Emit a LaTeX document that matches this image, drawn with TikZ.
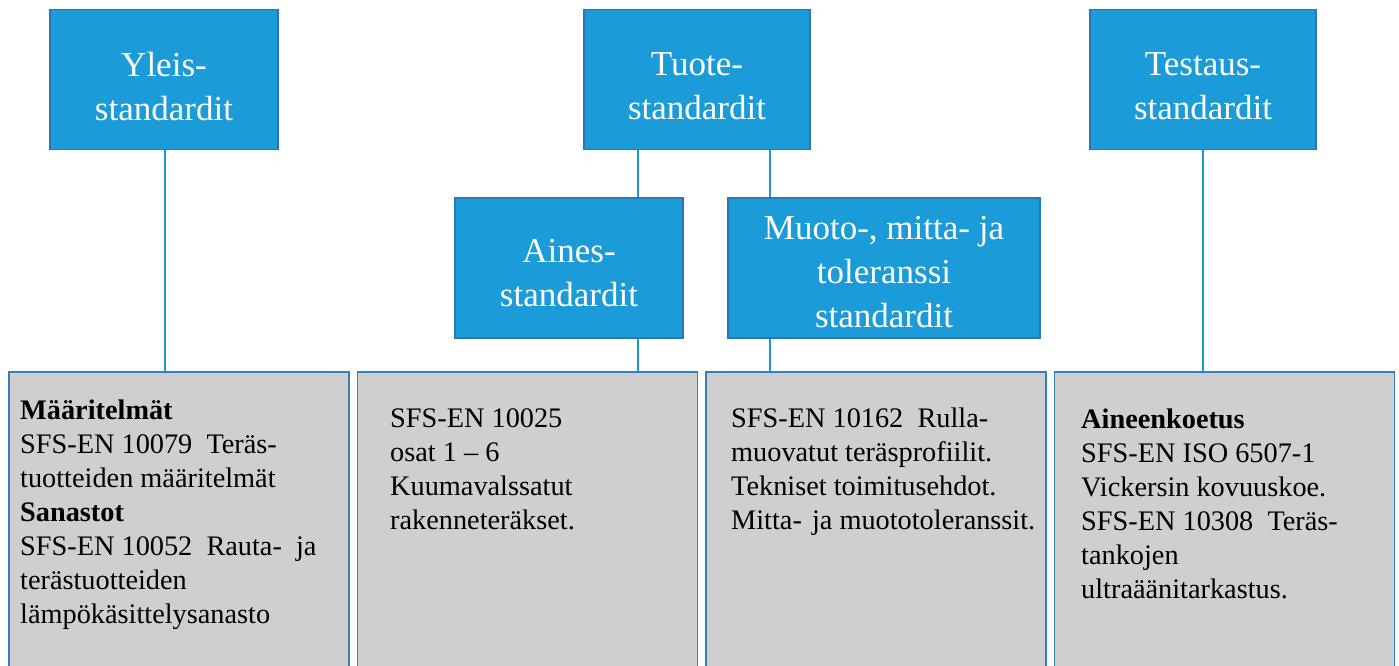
\documentclass[tikz,border=0pt]{standalone}
\usepackage{fontspec}
\setmainfont{Liberation Serif}
\definecolor{bfill}{RGB}{27,155,215}
\definecolor{bedge}{RGB}{46,117,182}
\definecolor{gfill}{RGB}{208,206,206}
\definecolor{gedge}{RGB}{50,128,190}
\definecolor{lcol}{RGB}{27,150,215}
\begin{document}
\begin{tikzpicture}[x=1pt,y=-1pt,
  bluebox/.style={draw=bedge,line width=1.5pt,fill=bfill,
    inner sep=0pt,minimum height=140pt},
  bluetxt/.style={text=white,align=center,inner sep=0pt,
    font=\fontsize{35}{44}\selectfont},
  graybox/.style={draw=gedge,line width=1.5pt,fill=gfill,inner sep=0pt,
    minimum width=340pt,minimum height=310pt,anchor=north west},
  boxtext/.style={anchor=north west,align=left,inner sep=0pt,
    font=\fontsize{28.3}{34}\selectfont},
  conn/.style={draw=lcol,line width=2.5pt}]
\useasboundingbox (0,0) rectangle (1399,666);
% gray boxes
\node[graybox] (g1) at (8,371) {};
\node[graybox] (g2) at (356.5,371) {};
\node[graybox] (g3) at (705,371) {};
\node[graybox] (g4) at (1053.5,371) {};
% blue boxes
\node[bluebox,minimum width=228pt,label={[bluetxt,yshift=-7pt]center:{Yleis-\\standardit}}] (yleis) at (164,79.5) {};
\node[bluebox,minimum width=226pt,label={[bluetxt,yshift=-7pt]center:{Tuote-\\standardit}}] (tuote) at (697,79.5) {};
\node[bluebox,minimum width=226pt,label={[bluetxt,yshift=-7pt]center:{Testaus-\\standardit}}] (testaus) at (1203,79.5) {};
\node[bluebox,minimum width=228pt,label={[bluetxt,yshift=-5pt]center:{Aines-\\standardit}}] (aines) at (569,268) {};
\node[bluebox,minimum width=312pt,label={[bluetxt,yshift=-4pt]center:{Muoto-, mitta- ja\\toleranssi\\standardit}}] (muoto) at (884,268) {};
% connectors
\coordinate (c0) at (165,0);
\coordinate (c1) at (638,0);
\coordinate (c2) at (770,0);
\coordinate (c3) at (1203,0);
\draw[conn] (c0 |- yleis.south) -- (c0 |- g1.north);
\draw[conn] (c1 |- tuote.south) -- (c1 |- aines.north);
\draw[conn] (c2 |- tuote.south) -- (c2 |- muoto.north);
\draw[conn] (c1 |- aines.south) -- (c1 |- g2.north);
\draw[conn] (c2 |- muoto.south) -- (c2 |- g3.north);
\draw[conn] (c3 |- testaus.south) -- (c3 |- g4.north);
% texts
\node[boxtext] (t1) at (20,395) {\strut\textbf{Määritelmät}\\SFS-EN 10079 \ Teräs-\\tuotteiden määritelmät\\\textbf{Sanastot}\\SFS-EN 10052 \ Rauta- \ ja\\terästuotteiden\\lämpökäsittelysanasto};
\node[boxtext] (t2) at (390,403) {\strut SFS-EN 10025\\osat 1 – 6\\Kuumavalssatut\\rakenneteräkset.};
\node[boxtext] (t3) at (731,403) {\strut SFS-EN 10162 \ Rulla-\\muovatut teräsprofiilit.\\Tekniset toimitusehdot.\\Mitta-\hspace{3pt} ja muototoleranssit.};
\node[boxtext] (t4) at (1081,404) {\strut\textbf{Aineenkoetus}\\SFS-EN ISO 6507-1\\Vickersin kovuuskoe.\\SFS-EN 10308 \ Teräs-\\tankojen\\ultraäänitarkastus.};
\end{tikzpicture}
\end{document}
